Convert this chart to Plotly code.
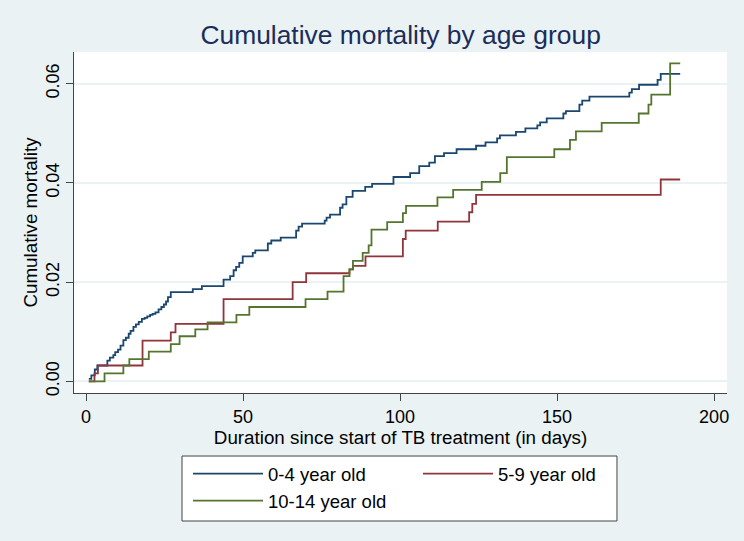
import plotly.graph_objects as go

# Step points (day, cumulative mortality)
days_0_4 = [0.9, 1.7, 2.8, 3.6, 6.8, 7.6, 8.7, 9.3, 10.2, 11.0, 11.9, 12.7, 13.6, 14.2,
            15.1, 15.9, 16.8, 17.8, 18.7, 19.5, 20.4, 21.2, 22.1, 23.1, 24.0, 24.8,
            25.5, 26.1, 27.0, 34.0, 36.9, 43.8, 45.9, 47.0, 47.8, 48.8, 49.9, 53.1,
            53.9, 57.9, 59.0, 62.0, 66.9, 67.7, 68.8, 76.0, 76.6, 77.7, 80.9, 81.7,
            82.9, 84.9, 88.9, 91.1, 97.9, 103.2, 106.1, 109.3, 111.1, 114.0, 118.0,
            124.2, 127.2, 130.9, 131.8, 136.9, 139.9, 143.7, 144.6, 146.7, 152.0,
            152.8, 157.1, 158.0, 160.3, 173.0, 173.8, 176.1, 182.0, 183.0, 189.2]
mort_0_4 = [0.0005, 0.0012, 0.0024, 0.0032, 0.0042, 0.0048, 0.0053, 0.0059, 0.0064,
            0.0072, 0.0083, 0.0088, 0.0096, 0.0102, 0.0110, 0.0115, 0.0120, 0.0126,
            0.0128, 0.0131, 0.0134, 0.0136, 0.0139, 0.0145, 0.0150, 0.0155, 0.0161,
            0.0170, 0.0180, 0.0186, 0.0192, 0.0205, 0.0212, 0.0224, 0.0231, 0.0239,
            0.0252, 0.0259, 0.0264, 0.0278, 0.0284, 0.0290, 0.0304, 0.0312, 0.0318,
            0.0324, 0.0330, 0.0336, 0.0350, 0.0357, 0.0372, 0.0384, 0.0392, 0.0398,
            0.0412, 0.0420, 0.0434, 0.0441, 0.0454, 0.0460, 0.0468, 0.0475, 0.0482,
            0.0490, 0.0496, 0.0503, 0.0510, 0.0516, 0.0522, 0.0530, 0.0540, 0.0545,
            0.0558, 0.0566, 0.0574, 0.0582, 0.0589, 0.0598, 0.0608, 0.0620, 0.0620]

days_5_9 = [0.9, 2.7, 3.8, 18.0, 27.0, 28.5, 43.8, 65.8, 70.1, 83.9, 85.0, 89.0,
            100.9, 101.8, 112.0, 122.0, 123.0, 124.2, 183.0, 189.2]
mort_5_9 = [0.0, 0.0016, 0.0032, 0.0082, 0.0099, 0.0116, 0.0166, 0.0200, 0.0218,
            0.0226, 0.0233, 0.0252, 0.0287, 0.0304, 0.0322, 0.0341, 0.0358, 0.0376,
            0.0407, 0.0407]

days_10_14 = [0.9, 5.9, 11.9, 13.8, 20.0, 27.0, 29.8, 34.8, 38.7, 47.9, 52.0, 69.9,
              76.9, 82.0, 83.9, 85.0, 88.1, 90.0, 90.9, 95.9, 100.9, 101.9, 111.9,
              116.9, 126.0, 131.9, 134.0, 149.1, 154.1, 156.0, 164.2, 176.0, 179.1,
              180.0, 186.0, 189.2]
mort_10_14 = [0.0, 0.0016, 0.0032, 0.0045, 0.0060, 0.0075, 0.0091, 0.0105, 0.0119,
              0.0134, 0.0150, 0.0166, 0.0181, 0.0212, 0.0226, 0.0243, 0.0259, 0.0274,
              0.0306, 0.0321, 0.0339, 0.0354, 0.0371, 0.0386, 0.0402, 0.0420, 0.0452,
              0.0468, 0.0487, 0.0504, 0.0521, 0.0540, 0.0558, 0.0578, 0.0641, 0.0641]

groups = ["0-4 year old", "5-9 year old", "10-14 year old"]
colors = ["#1A476F", "#90353B", "#55752F"]
x_ticks = [0, 50, 100, 150, 200]
y_ticks = [0.0, 0.02, 0.04, 0.06]

series = [(days_0_4, mort_0_4), (days_5_9, mort_5_9), (days_10_14, mort_10_14)]

FONT = "Liberation Sans, Arial, Helvetica, sans-serif"
BG = "#EAF2F3"
AXIS = "#444"

fig = go.Figure()
for name, color, (xs, ys) in zip(groups, colors, series):
    fig.add_trace(go.Scatter(
        x=xs, y=ys, name=name, mode="lines",
        line=dict(color=color, width=1.8, shape="hv"),
    ))

fig.update_layout(
    width=744, height=541,
    paper_bgcolor=BG, plot_bgcolor="white",
    font=dict(family=FONT, size=18, color="black"),
    margin=dict(l=74, r=17, t=52, b=148),
    title=dict(text="Cumulative mortality by age group", x=0.5385, xanchor="center",
               y=0.936, yanchor="middle",
               font=dict(family=FONT, size=26.4, color="#1B2D5B")),
    xaxis=dict(
        range=[-3.82, 204.1], tickvals=x_ticks, ticks="outside", ticklen=7,
        tickcolor=AXIS, showgrid=False, zeroline=False,
        showline=True, linecolor=AXIS, linewidth=1.2,
        title=dict(text="Duration since start of TB treatment (in days)", standoff=4,
                   font=dict(size=18.8)),
        tickfont=dict(size=18),
    ),
    yaxis=dict(
        range=[-0.00234, 0.0664], tickvals=y_ticks, tickformat=".2f",
        tickangle=-90, ticks="outside", ticklen=7, tickcolor=AXIS,
        showgrid=True, gridcolor=BG, gridwidth=1.5, zeroline=False,
        showline=True, linecolor=AXIS, linewidth=1.2,
        title=dict(text="Cumulative mortality", standoff=0, font=dict(size=18.8)),
        tickfont=dict(size=18),
    ),
    legend=dict(
        orientation="h", x=0.1746, xanchor="left", y=-0.182, yanchor="top",
        bgcolor="rgba(0,0,0,0)", borderwidth=0,
        itemwidth=70, entrywidth=145, font=dict(size=18.5),
        tracegroupgap=0,
    ),
    # legend frame (Stata draws it tighter than plotly's own box)
    shapes=[dict(type="rect", xref="paper", yref="paper",
                 x0=0.1654, x1=0.8315, y0=-0.1848, y1=-0.3754,
                 fillcolor="white", line=dict(color=AXIS, width=1))],
)

fig.write_html("out.html", config={"displayModeBar": False},
               post_script="document.body.style.margin='0px';")
